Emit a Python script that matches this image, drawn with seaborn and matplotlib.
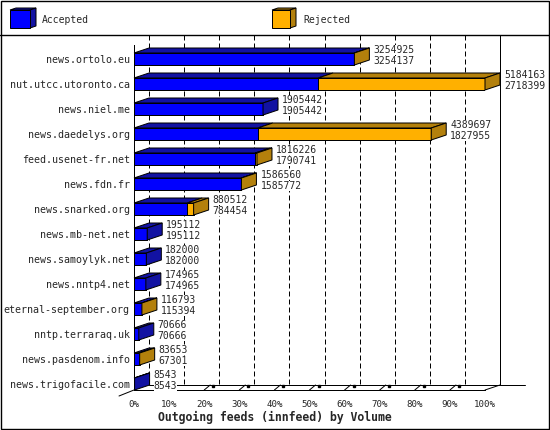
import matplotlib
matplotlib.use("Agg")
import matplotlib.pyplot as plt
from matplotlib.patches import Polygon, Rectangle
import numpy as np
import pandas as pd
import seaborn as sns

# ---------------- data ----------------
hosts = ["news.ortolo.eu", "nut.utcc.utoronto.ca", "news.niel.me", "news.daedelys.org",
         "feed.usenet-fr.net", "news.fdn.fr", "news.snarked.org", "news.mb-net.net",
         "news.samoylyk.net", "news.nntp4.net", "eternal-september.org", "nntp.terraraq.uk",
         "news.pasdenom.info", "news.trigofacile.com"]
offered = [3254925, 5184163, 1905442, 4389697, 1816226, 1586560, 880512, 195112,
           182000, 174965, 116793, 70666, 83653, 8543]
accepted = [3254137, 2718399, 1905442, 1827955, 1790741, 1585772, 784454, 195112,
            182000, 174965, 115394, 70666, 67301, 8543]
pct_ticks = [0, 10, 20, 30, 40, 50, 60, 70, 80, 90, 100]
legend_labels = ["Accepted", "Rejected"]
title = "Outgoing feeds (innfeed) by Volume"

# ---------------- style ----------------
W, H, DPI = 550, 430, 100
sns.set_style("white")
plt.rcParams["font.family"] = ["DejaVu Sans Mono", "DejaVu Sans"]

BLUE, BLUE_D = "#0000FF", "#1212A2"
ORANGE, ORANGE_D = "#FFB000", "#B3800C"
LW = 72 / DPI  # 1 px

fig = plt.figure(figsize=(W / DPI, H / DPI), dpi=DPI)
fig.patch.set_facecolor("white")

# overlay axes in pixel coordinates (frame + legend)
ov = fig.add_axes([0, 0, 1, 1], zorder=0)
ov.set_xlim(0, W)
ov.set_ylim(H, 0)
ov.axis("off")

# main axes (front plane)
L, R, T, B = 134, 485, 45, 390
ax = fig.add_axes([L / W, 1 - B / H, (R - L) / W, (B - T) / H], zorder=1)
ax.patch.set_alpha(0)

df = pd.DataFrame({"host": hosts, "offered": offered, "accepted": accepted})
n = len(hosts)
BAR_H = 0.48

sns.barplot(data=df, y="host", x="offered", color=ORANGE, saturation=1, width=BAR_H,
            edgecolor="black", linewidth=LW, errorbar=None, orient="h", ax=ax, zorder=3)
sns.barplot(data=df, y="host", x="accepted", color=BLUE, saturation=1, width=BAR_H,
            edgecolor="black", linewidth=LW, errorbar=None, orient="h", ax=ax, zorder=3)

xmax = max(offered)
ax.set_xlim(0, xmax)
ax.set_ylim(n - 1 + 6 / 25, -14 / 25)
ppx = (R - L) / xmax
ppy = (B - T) / (ax.get_ylim()[0] - ax.get_ylim()[1])
dx = 15 / ppx
dy = 5 / ppy
ybot, ytop = ax.get_ylim()

# 3D faces of bars
for i, (off, acc) in enumerate(zip(offered, accepted)):
    y0 = i - BAR_H / 2
    y1 = i + BAR_H / 2
    segs = [(0, acc, BLUE_D)]
    if off > acc:
        segs.append((acc, off, ORANGE_D))
    for a, b, c in segs:
        ax.add_patch(Polygon([(a, y0), (b, y0), (b + dx, y0 - dy), (a + dx, y0 - dy)],
                             closed=True, facecolor=c, edgecolor="black", lw=LW,
                             zorder=3, clip_on=False))
    endc = segs[-1][2]
    ax.add_patch(Polygon([(off, y0), (off + dx, y0 - dy), (off + dx, y1 - dy), (off, y1)],
                         closed=True, facecolor=endc, edgecolor="black", lw=LW,
                         zorder=3, clip_on=False))
    tx = off + 19 / ppx
    ax.text(tx, i - 9 / ppy, str(off), ha="left", va="center", fontsize=7, zorder=6,
            clip_on=False, bbox=dict(facecolor="white", edgecolor="none", pad=0))
    ax.text(tx, i + 2 / ppy, str(acc), ha="left", va="center", fontsize=7, zorder=6,
            clip_on=False, bbox=dict(facecolor="white", edgecolor="none", pad=0))

# back wall dashed gridlines
gtop = ytop - 10 / ppy
for p in pct_ticks[:-1]:
    gx = p / 100 * xmax + dx
    ax.plot([gx, gx], [gtop, ybot - dy], color="black", lw=LW, dashes=(5, 3),
            zorder=1, clip_on=False)
# right wall
ax.plot([xmax + dx, xmax + dx], [gtop, ybot - dy], color="black", lw=LW, zorder=1, clip_on=False)
# floor lines
ax.plot([dx, xmax + dx + 25 / ppx], [ybot - dy, ybot - dy], color="black", lw=LW, zorder=1, clip_on=False)
ax.plot([xmax, xmax + dx], [ybot, ybot - dy], color="black", lw=LW, zorder=1, clip_on=False)
ax.plot([-dx, 0], [ybot + 6 / ppy, ybot], color="black", lw=LW, zorder=1, clip_on=False)
for p in pct_ticks[2:-1]:
    fx = p / 100 * xmax
    ax.plot([fx, fx + 6 / ppx], [ybot, ybot - dy], color="black", lw=LW, zorder=1, clip_on=False)
    ax.plot([fx + 9 / ppx], [ybot - 4 / ppy], marker="s", ms=2, color="black", zorder=1, clip_on=False)

# axes styling
ax.set_xticks([p / 100 * xmax for p in pct_ticks])
ax.set_xticklabels([f"{p}%" for p in pct_ticks])
ax.tick_params(axis="x", length=4, width=LW, pad=3, labelsize=6.6, color="black", direction="out")
ax.tick_params(axis="y", length=0, pad=3, labelsize=7.2)
ax.set_xlabel("")
ax.set_ylabel("")
for s in ["top", "right"]:
    ax.spines[s].set_visible(False)
for s in ["left", "bottom"]:
    ax.spines[s].set_color("black")
    ax.spines[s].set_linewidth(LW)
ax.grid(False)

fig.text(0.5, 1 - 417 / H, title, ha="center", va="center", fontsize=8.3, fontweight="bold")

# frame + legend
ov.add_patch(Rectangle((0.5, 0.5), W - 1.5, H - 1.5, fill=False, edgecolor="black", lw=1.0))
ov.plot([0, W], [35, 35], color="black", lw=1.0)


def cube(x, y, w, h, ddx, ddy, front, dark):
    ov.add_patch(Polygon([(x, y), (x + w, y), (x + w + ddx, y - ddy), (x + ddx, y - ddy)],
                         facecolor=dark, edgecolor="black", lw=LW))
    ov.add_patch(Polygon([(x + w, y), (x + w + ddx, y - ddy), (x + w + ddx, y + h - ddy), (x + w, y + h)],
                         facecolor=dark, edgecolor="black", lw=LW))
    ov.add_patch(Rectangle((x, y), w, h, facecolor=front, edgecolor="black", lw=LW))


cube(10, 10, 20, 18, 6, 2, BLUE, BLUE_D)
ov.text(42, 20, legend_labels[0], ha="left", va="center", fontsize=7)
cube(272, 10, 18, 18, 6, 2, ORANGE, ORANGE_D)
ov.text(303, 20, legend_labels[1], ha="left", va="center", fontsize=7)

fig.savefig("out.png", dpi=DPI)
